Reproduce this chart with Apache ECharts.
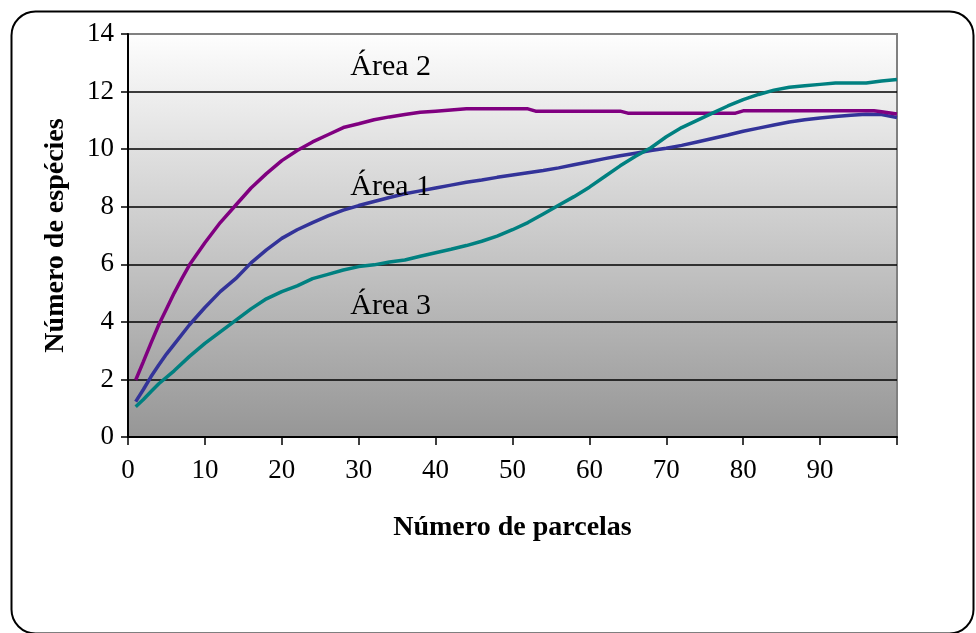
<!DOCTYPE html>
<html>
<head>
<meta charset="utf-8">
<script src="https://cdn.jsdelivr.net/npm/echarts@6/dist/echarts.min.js"></script>
<style>
  html, body { margin: 0; padding: 0; background: #ffffff; }
  #chart { width: 976px; height: 633px; }
</style>
</head>
<body>
<div id="chart"></div>
<script>
// Species accumulation curves: number of species vs. number of plots
const area1X = [1, 2, 3, 4, 5, 6, 8, 10, 12, 14, 16, 18, 20, 22, 24, 26, 28, 30, 32, 34, 36, 38, 40, 42, 44, 46, 48, 50, 52, 54, 56, 58, 60, 62, 64, 66, 68, 70, 72, 74, 76, 78, 80, 82, 84, 86, 88, 90, 92, 94, 96, 98, 100];
const area1Y = [1.23, 1.65, 2.1, 2.5, 2.88, 3.22, 3.9, 4.5, 5.05, 5.5, 6.05, 6.5, 6.9, 7.2, 7.45, 7.68, 7.88, 8.04, 8.18, 8.32, 8.45, 8.55, 8.65, 8.75, 8.85, 8.93, 9.02, 9.1, 9.18, 9.26, 9.35, 9.46, 9.56, 9.67, 9.77, 9.86, 9.95, 10.03, 10.13, 10.25, 10.37, 10.49, 10.62, 10.73, 10.84, 10.94, 11.02, 11.08, 11.13, 11.18, 11.21, 11.2, 11.1];

const area2X = [1, 2, 3, 4, 5, 6, 7, 8, 10, 12, 14, 16, 18, 20, 22, 24, 26, 28, 30, 32, 34, 36, 38, 40, 42, 44, 52, 53, 64, 65, 79, 80, 97, 98, 100];
const area2Y = [1.98, 2.62, 3.27, 3.9, 4.45, 5.0, 5.5, 5.98, 6.75, 7.45, 8.05, 8.65, 9.15, 9.6, 9.95, 10.25, 10.5, 10.75, 10.88, 11.02, 11.12, 11.2, 11.28, 11.32, 11.36, 11.4, 11.4, 11.32, 11.32, 11.25, 11.25, 11.33, 11.33, 11.3, 11.22];

const area3X = [1, 2, 3, 4, 6, 8, 10, 12, 14, 16, 18, 20, 22, 24, 26, 28, 30, 32, 34, 36, 38, 40, 42, 44, 46, 48, 50, 52, 54, 56, 58, 60, 62, 64, 66, 68, 70, 72, 74, 76, 78, 80, 82, 84, 86, 88, 90, 92, 94, 96, 98, 100];
const area3Y = [1.05, 1.3, 1.58, 1.85, 2.3, 2.8, 3.25, 3.65, 4.05, 4.45, 4.8, 5.05, 5.25, 5.5, 5.65, 5.8, 5.92, 5.98, 6.08, 6.15, 6.28, 6.4, 6.52, 6.65, 6.8, 6.98, 7.2, 7.45, 7.75, 8.05, 8.35, 8.68, 9.05, 9.42, 9.75, 10.05, 10.43, 10.75, 11.0, 11.25, 11.5, 11.72, 11.9, 12.05, 12.15, 12.2, 12.25, 12.3, 12.3, 12.3, 12.37, 12.42];

const seriesNames = ['Área 1', 'Área 2', 'Área 3'];
const xTitle = 'Número de parcelas';
const yTitle = 'Número de espécies';

const FONT = '"Liberation Serif", "Times New Roman", serif';
const colors = ['#333399', '#800080', '#008080'];

function pairs(xs, ys) {
  return xs.map((x, i) => [x, ys[i]]);
}

const chart = echarts.init(document.getElementById('chart'), null, { renderer: 'canvas' });

const option = {
  animation: false,
  backgroundColor: '#ffffff',
  grid: {
    left: 128, right: 79, top: 34, bottom: 196,
    show: true,
    borderColor: '#808080',
    borderWidth: 2,
    backgroundColor: new echarts.graphic.LinearGradient(0, 0, 0, 1, [
      { offset: 0, color: '#fefefe' },
      { offset: 1, color: '#969696' }
    ])
  },
  xAxis: {
    type: 'value',
    min: 0, max: 100, interval: 10,
    name: xTitle,
    nameLocation: 'middle',
    nameGap: 77,
    nameTextStyle: { fontFamily: FONT, fontWeight: 'bold', fontSize: 28, color: '#000' },
    axisLine: { show: true, onZero: false, lineStyle: { color: '#000', width: 2 } },
    axisTick: { show: true, length: 8, lineStyle: { color: '#000', width: 1.5 } },
    axisLabel: {
      fontFamily: FONT, fontSize: 27, color: '#000', margin: 20,
      formatter: v => (v === 100 ? '' : String(v))
    },
    splitLine: { show: false }
  },
  yAxis: {
    type: 'value',
    min: 0, max: 14, interval: 2,
    name: yTitle,
    nameLocation: 'middle',
    nameGap: 58,
    nameTextStyle: { fontFamily: FONT, fontWeight: 'bold', fontSize: 28, color: '#000' },
    axisLine: { show: true, lineStyle: { color: '#000', width: 2 } },
    axisTick: { show: true, length: 7, lineStyle: { color: '#000', width: 1.5 } },
    axisLabel: { fontFamily: FONT, fontSize: 27, color: '#000', margin: 14 },
    splitLine: {
      show: true,
      lineStyle: { color: ['#000', '#000', '#000', '#000', '#000', '#000', '#000', '#808080'], width: 1.5 }
    }
  },
  series: [
    { name: seriesNames[0], data: pairs(area1X, area1Y), color: colors[0] },
    { name: seriesNames[1], data: pairs(area2X, area2Y), color: colors[1] },
    { name: seriesNames[2], data: pairs(area3X, area3Y), color: colors[2] }
  ].map(s => Object.assign({
    type: 'line',
    showSymbol: false,
    symbol: 'none',
    lineStyle: { width: 3.5, color: s.color },
    z: 3
  }, s))
};

chart.setOption(option);

// In-plot area labels, anchored in data coordinates
const labelAnchors = [
  { text: seriesNames[1], at: [28.9, 12.85] },
  { text: seriesNames[0], at: [28.9, 8.69] },
  { text: seriesNames[2], at: [28.9, 4.53] }
];

const graphics = labelAnchors.map(a => {
  const p = chart.convertToPixel({ gridIndex: 0 }, a.at);
  return {
    type: 'text',
    left: p[0],
    top: p[1] - 15,
    z: 10,
    style: { text: a.text, font: '30px ' + FONT, fill: '#000' }
  };
});

// Rounded outer frame of the chart
graphics.push({
  type: 'rect',
  left: 9, top: 9,
  z: 20,
  shape: { width: 962, height: 622, r: 24 },
  style: { fill: 'none', stroke: '#000', lineWidth: 2 }
});

chart.setOption({ graphic: graphics });
</script>
</body>
</html>
